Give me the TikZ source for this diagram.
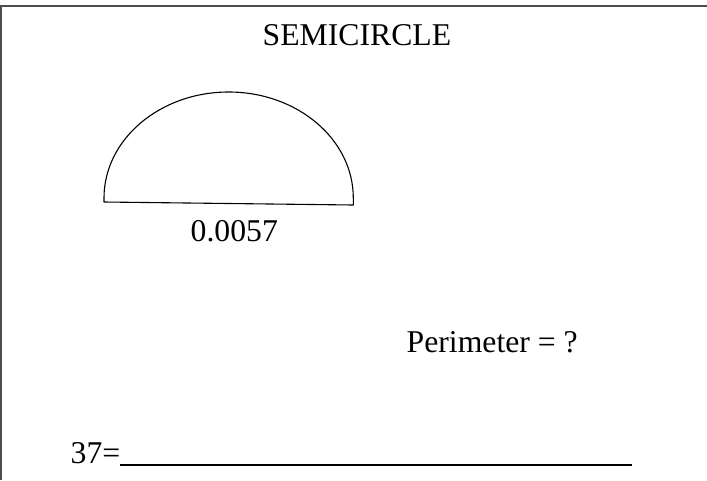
\documentclass[tikz,border=0pt]{standalone}
\usepackage{fontspec}
\setmainfont{Liberation Serif}
\begin{document}
\begin{tikzpicture}[x=1pt,y=-1pt,
  lbl/.style={inner sep=0pt,anchor=base west,font=\fontsize{31.7}{38}\selectfont},
  frame/.style={draw=black!70,line width=1.8pt},
  semishape/.style={draw=black,line width=1.1pt}]
\useasboundingbox (0,0) rectangle (707,480);
% frame
\coordinate (fbl) at (1,480);
\coordinate (ftl) at (1,6);
\coordinate (ftr) at (707,6);
\draw[frame] (fbl) -- (ftl) -- (ftr);
% title
\node[lbl] (title) at (262.5,45) {SEMICIRCLE};
% semicircle
\coordinate (sl) at (104,202);
\coordinate (sla) at (104,198);
\coordinate (sra) at (353.3,198);
\coordinate (sr) at (353.3,205);
\draw[semishape,line join=round] (sl) -- (sla) arc[start angle=180,end angle=360,x radius=124.65,y radius=106] -- (sr) -- cycle;
\node[lbl] (val) at (190.5,241.7) {0.0057};
\node[lbl] (per) at (406.5,352.3) {Perimeter = ?};
\node[lbl] (ans) at (70.5,463.3) {37=};
\coordinate (uend) at (632,465);
\draw[line width=1.6pt] ([yshift=-1.7pt]ans.base east) -- (uend);
\end{tikzpicture}
\end{document}
